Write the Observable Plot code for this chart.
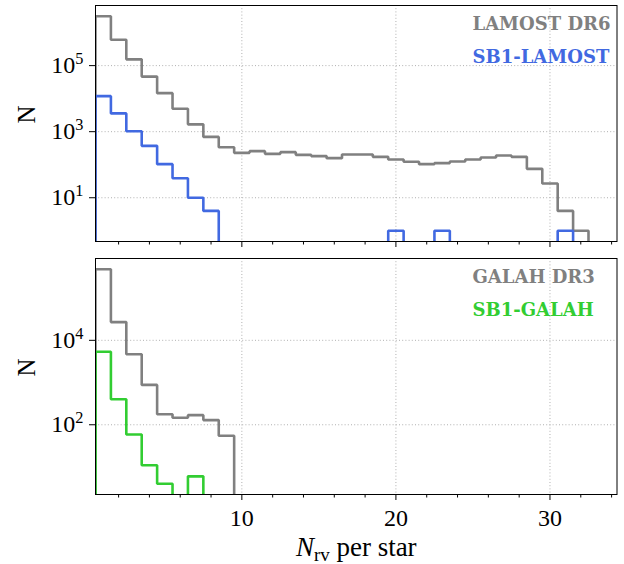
<!DOCTYPE html>
<html>
<head>
<meta charset="utf-8">
<script src="https://cdn.jsdelivr.net/npm/d3@7"></script>
<script src="https://cdn.jsdelivr.net/npm/@observablehq/plot@0.6"></script>
<style>
  body { margin: 0; background: #fff; }
  #chart svg { display: block; font-family: "Liberation Serif", serif; }
</style>
</head>
<body>
<div id="chart"></div>
<script>
// Number of RV measurements per star: histogram counts, one bin per integer N_rv.
const nrvLamost = d3.range(1, 33);   // bin centres 1..32
const lamostDR6 = [3130000, 607000, 155000, 46600, 14700, 4960, 1670, 695, 339, 229,
                   257, 213, 240, 199, 182, 158, 204, 204, 173, 144,
                   123, 104, 112, 125, 144, 166, 190, 173, 75, 27,
                   4, 1];
const sb1Lamost = [11900, 3580, 1030, 372, 104, 39, 10, 4, 0, 0,
                   0, 0, 0, 0, 0, 0, 0, 0, 0, 1,
                   0, 0, 1, 0, 0, 0, 0, 0, 0, 0,
                   1, 0];
const nrvGalah = d3.range(1, 10);    // bin centres 1..9
const galahDR3 = [483000, 27000, 4670, 879, 178, 146, 169, 129, 55];
const sb1Galah = [5380, 403, 59, 11, 4, 0, 6];

const xTicks = [10, 20, 30];
const xMinorTicks = [2, 4, 6, 8, 12, 14, 16, 18, 22, 24, 26, 28, 32, 34];
const topYTicks = [1e1, 1e3, 1e5];
const bottomYTicks = [1e2, 1e4];

const GRAY = "#808080", BLUE = "#4169e1", GREEN = "#32cd32";
const SERIF = "Liberation Serif";
const BOLD_SERIF = "DejaVu Serif";
const xDomain = [0.5, 34.35];

// log-scale limits padded by 5% of the decade range
function logDomain(...series) {
  const vals = series.flat().filter(v => v > 0);
  const lo = Math.log10(d3.min(vals)), hi = Math.log10(d3.max(vals));
  const m = 0.05 * (hi - lo);
  return [10 ** (lo - m), 10 ** (hi + m)];
}

// outline of a step histogram; empty bins drop below the axis
function stepOutline(centres, counts, base) {
  const pts = [{x: centres[0] - 0.5, y: base}];
  counts.forEach((c, i) => {
    const v = c > 0 ? c : base;
    pts.push({x: centres[i] - 0.5, y: v}, {x: centres[i] + 0.5, y: v});
  });
  pts.push({x: centres[counts.length - 1] + 0.5, y: base});
  return pts;
}

const gridStyle = {stroke: "#b0b0b0", strokeOpacity: 1, strokeWidth: 1, strokeDasharray: "1,2.2"};
const lineStyle = {x: "x", y: "y", strokeWidth: 2.6, clip: true, strokeLinejoin: "miter", strokeLinecap: "butt"};

function panel({series, yTicks, height, marginTop, marginBottom, labels, xLabels}) {
  const domain = logDomain(...series.map(s => s.counts));
  const base = domain[0] / 100;
  const marks = [
    Plot.gridX(xTicks, gridStyle),
    Plot.gridY(yTicks, gridStyle),
    ...series.map(s => Plot.line(stepOutline(s.centres, s.counts, base), {...lineStyle, stroke: s.color})),
    Plot.frame({stroke: "black", strokeWidth: 1}),
    Plot.axisX(xTicks, {tickSize: 6, tickPadding: 8, fontSize: 24, fontFamily: SERIF,
      tickFormat: xLabels ? d => String(d) : () => ""}),
    Plot.axisX(xMinorTicks, {tickSize: 3.5, tickFormat: () => ""}),
    Plot.axisY(yTicks, {tickSize: 6, tickPadding: 6, fontSize: 24, fontFamily: SERIF,
      tickFormat: d => `10^${Math.round(Math.log10(d))}`}),
    Plot.text(["N"], {text: d => d, frameAnchor: "left", rotate: -90, dx: -69, fontSize: 25, fontFamily: SERIF}),
    ...labels.map((l, i) => Plot.text([l.text], {
      text: d => d, frameAnchor: "top-right", textAnchor: "start", lineAnchor: "bottom",
      dx: -144.5, dy: 24.5 + i * 32.5, fill: l.color, fontWeight: "bold",
      fontFamily: BOLD_SERIF, fontSize: 18
    }))
  ];
  if (xLabels) {
    marks.push(Plot.text(["N|rv| per star"], {
      text: d => d, frameAnchor: "bottom", lineAnchor: "bottom", dy: 61, fontSize: 27, fontFamily: SERIF
    }));
  }
  const svg = Plot.plot({
    width: 624, height, marginLeft: 95, marginRight: 7.5, marginTop, marginBottom,
    style: {fontSize: "24px", background: "white", color: "black"},
    x: {domain: xDomain, label: null},
    y: {type: "log", domain, label: null},
    marks
  });
  svg.setAttribute("font-family", SERIF);
  svg.style.fontFamily = SERIF;
  // powers of ten with a raised exponent
  d3.select(svg).selectAll("text").filter(function () { return this.textContent.includes("^"); }).each(function () {
    const t = d3.select(this);
    const [b, e] = t.text().split("^");
    t.text(null);
    t.append("tspan").text(b);
    t.append("tspan").attr("dy", -9.5).attr("font-size", "0.68em").text(e);
  });
  // italic N with an upright "rv" subscript
  d3.select(svg).selectAll("text").filter(function () { return this.textContent.includes("|"); }).each(function () {
    const t = d3.select(this);
    const [a, sub, rest] = t.text().split("|");
    t.text(null);
    t.append("tspan").attr("font-style", "italic").text(a);
    t.append("tspan").attr("font-size", "0.7em").attr("dy", 5).text(sub);
    t.append("tspan").attr("dy", -5).text(rest);
  });
  return svg;
}

const chart = document.getElementById("chart");
chart.append(panel({
  series: [
    {centres: nrvLamost, counts: lamostDR6, color: GRAY},
    {centres: nrvLamost, counts: sb1Lamost, color: BLUE}
  ],
  yTicks: topYTicks, height: 250, marginTop: 5, marginBottom: 9,
  labels: [{text: "LAMOST DR6", color: GRAY}, {text: "SB1-LAMOST", color: BLUE}],
  xLabels: false
}));
chart.append(panel({
  series: [
    {centres: nrvGalah, counts: galahDR3, color: GRAY},
    {centres: nrvGalah, counts: sb1Galah, color: GREEN}
  ],
  yTicks: bottomYTicks, height: 314, marginTop: 8, marginBottom: 70,
  labels: [{text: "GALAH DR3", color: GRAY}, {text: "SB1-GALAH", color: GREEN}],
  xLabels: true
}));
</script>
</body>
</html>
